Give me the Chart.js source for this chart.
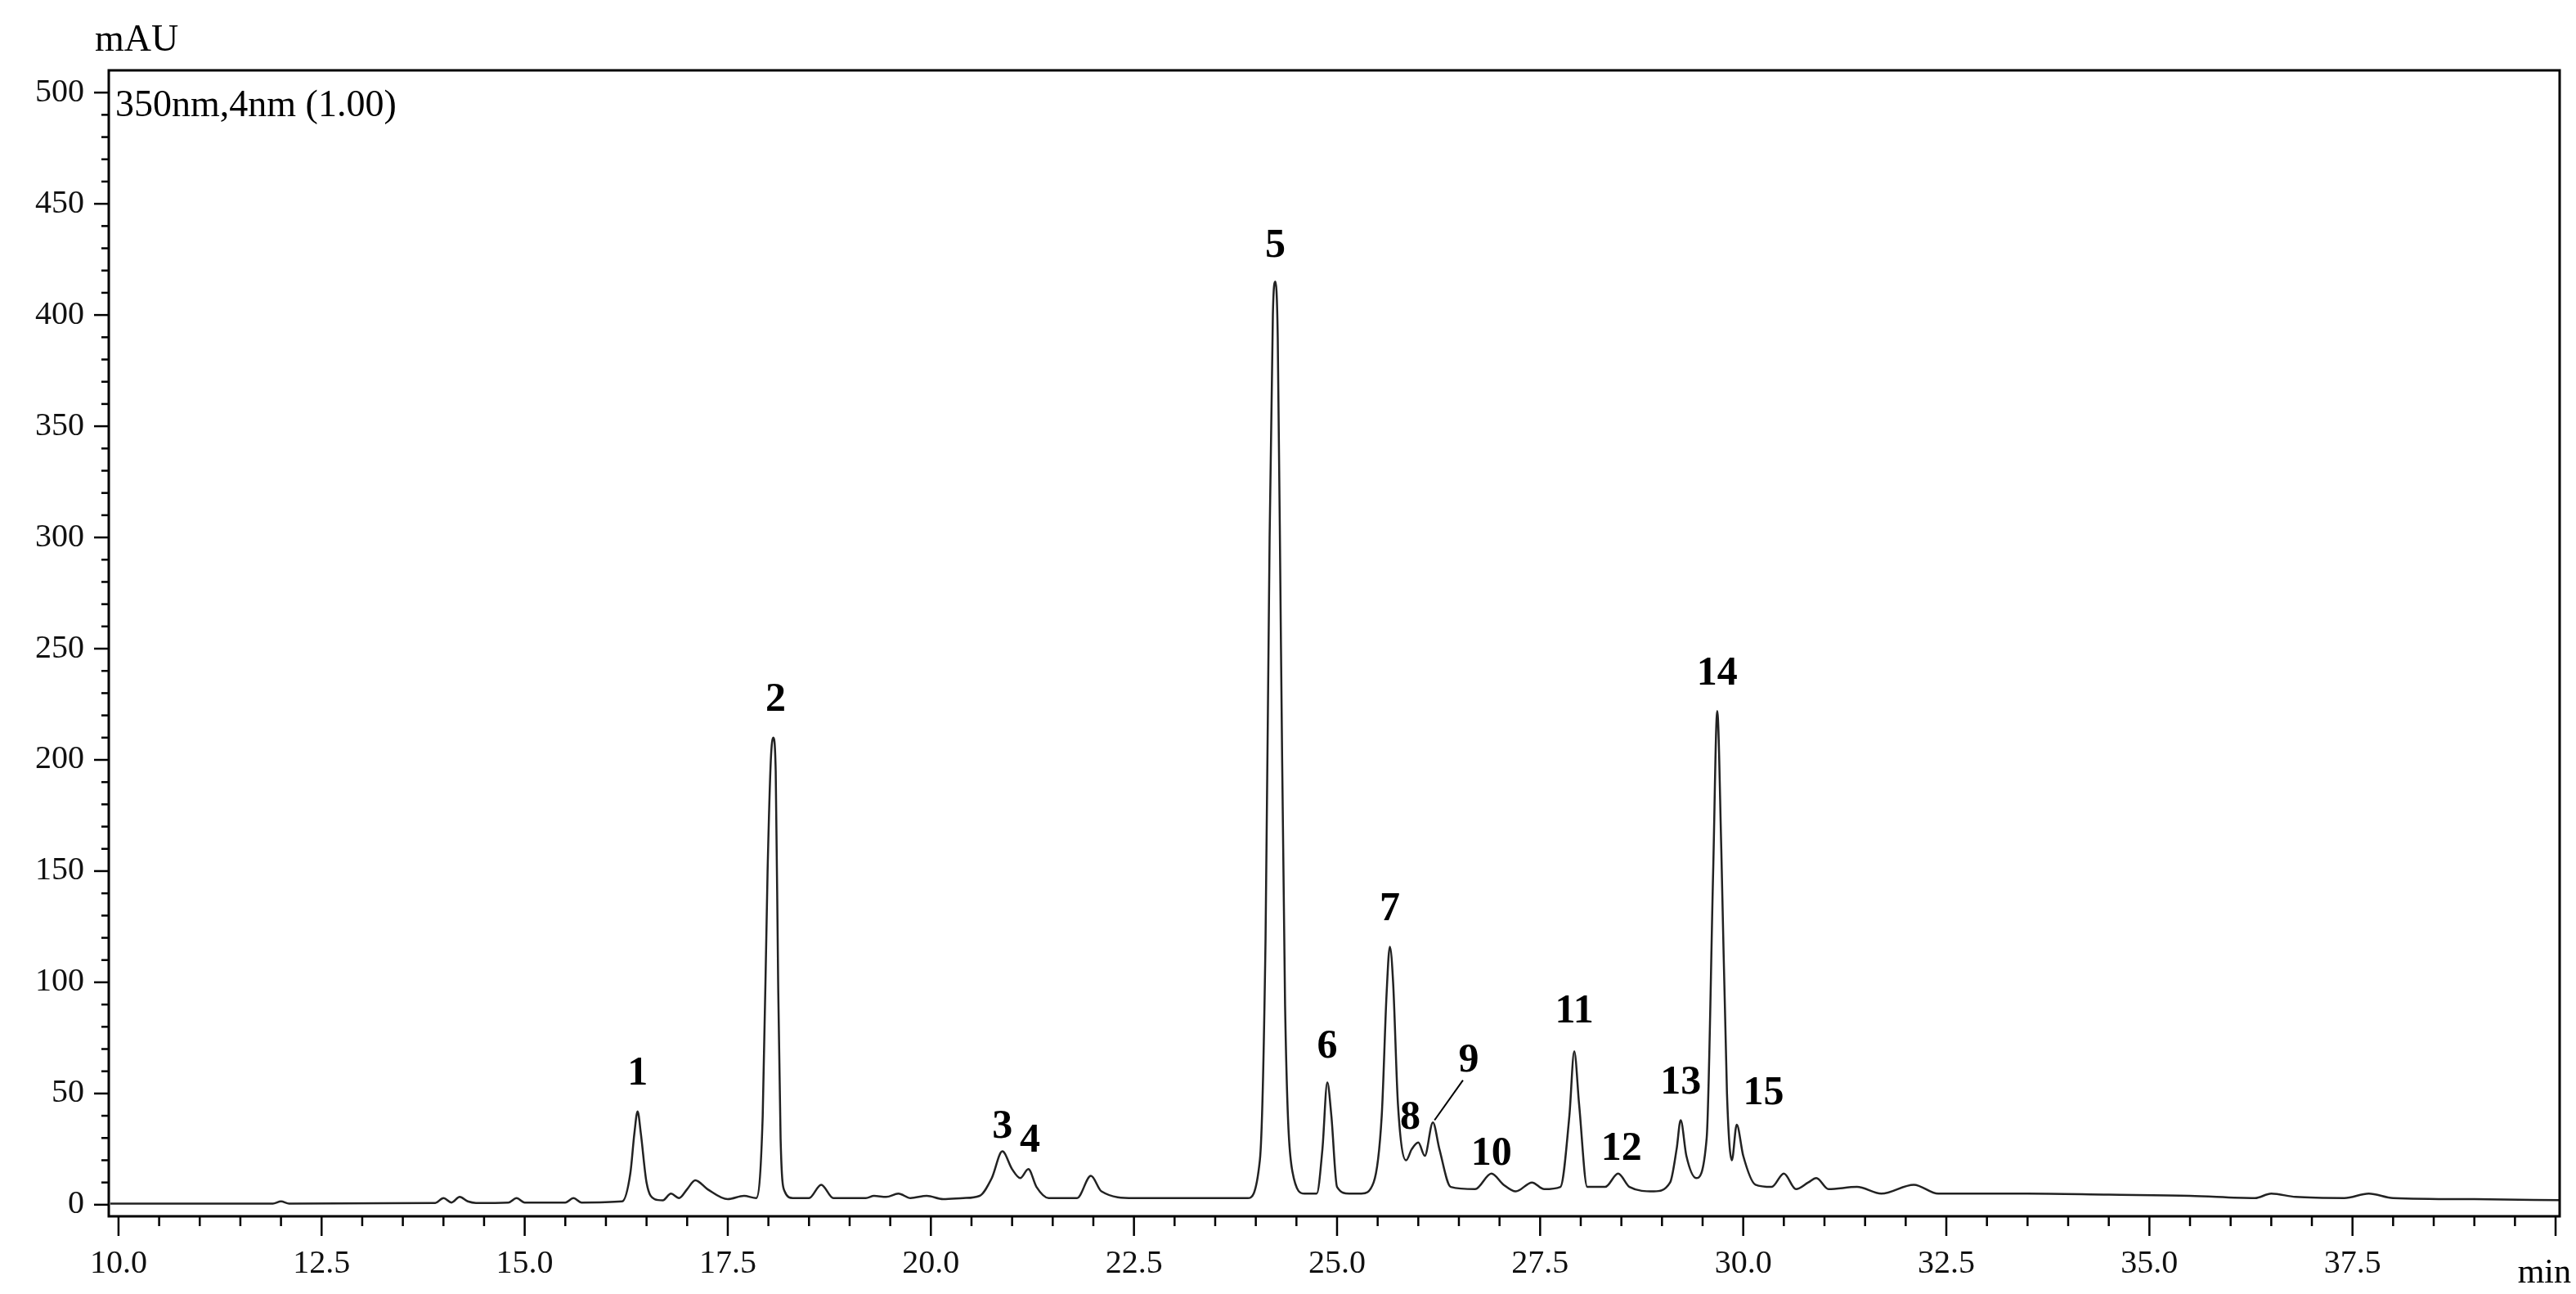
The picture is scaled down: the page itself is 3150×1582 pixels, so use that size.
<!DOCTYPE html>
<html><head><meta charset="utf-8">
<script src="https://cdn.jsdelivr.net/npm/chart.js@4/dist/chart.umd.min.js"></script>
<style>html,body{margin:0;padding:0;background:#fff}#w{width:3150px;height:1582px}</style>
</head><body><div id="w"><canvas id="c"></canvas></div>
<script>
// Retention time (min) and absorbance (mAU)
const times = [9.9,11.9,12.0,12.1,13.9,14.0,14.1,14.2,14.3,14.4,14.8,14.9,15.0,15.5,15.6,15.7,16.2,16.3,16.35,16.39,16.43,16.5,16.6,16.7,16.8,16.9,17.0,17.1,17.25,17.5,17.7,17.85,17.93,17.99,18.03,18.06,18.09,18.12,18.15,18.2,18.3,18.5,18.65,18.8,19.2,19.3,19.45,19.6,19.75,19.95,20.15,20.4,20.6,20.75,20.88,21.0,21.1,21.2,21.3,21.45,21.8,21.97,22.1,22.5,23.2,23.9,24.05,24.12,24.17,24.21,24.24,24.27,24.31,24.36,24.45,24.6,24.75,24.82,24.88,24.93,25.0,25.15,25.3,25.45,25.55,25.61,25.65,25.69,25.75,25.85,25.92,26.0,26.08,26.18,26.26,26.4,26.7,26.9,27.05,27.2,27.4,27.55,27.75,27.86,27.92,27.98,28.08,28.3,28.46,28.6,28.9,29.1,29.18,29.23,29.3,29.42,29.55,29.63,29.68,29.73,29.8,29.86,29.92,30.0,30.15,30.35,30.5,30.65,30.8,30.9,31.05,31.4,31.7,32.1,32.4,33.5,34.5,35.5,36.3,36.5,36.8,37.4,37.7,38.0,39.0,40.1];
const mau   = [0.5,0.5,1.5,0.5,0.8,3,1,3.5,1.5,0.8,1,3,1,1,3,1,1.5,14,32,42,32,10,2.5,2,5,3,7,11,7,2.5,4,3,40,150,200,210,195,100,30,6,3,3,9,3,3,4,3.5,5,3,4,2.5,3,4,12,24,16,12,16,8,3,3,13,6,3,3,3,20,120,300,400,415,390,250,90,15,5,5,25,55,40,8,5,5,10,40,95,116,100,45,20,25,28,22,37,25,8,7,14,9,6,10,7,8,40,69,45,8,8,14,8,6,10,25,38,22,12,30,150,222,160,50,20,36,22,9,8,14,7,10,12,7,8,5,9,5,5,4.5,4,3,5,3.5,3,5,3,2.5,2];
const xTickLabels = ["10.0","12.5","15.0","17.5","20.0","22.5","25.0","27.5","30.0","32.5","35.0","37.5"];
const yTickLabels = ["0","50","100","150","200","250","300","350","400","450","500"];
const peakLabels = ["1","2","3","4","5","6","7","8","9","10","11","12","13","14","15"];
const peakLabelX = [16.39,18.09,20.88,21.22,24.24,24.88,25.65,25.9,26.62,26.9,27.92,28.5,29.23,29.68,30.25];
const peakLabelY = [54,222,30,24,426,66,128,34,60,18,82,20,50,234,45];

const pts = times.map((t,i)=>({x:t,y:mau[i]}));
const F = '"Liberation Serif", "Times New Roman", serif';

const deco = {
  id:'deco',
  afterDraw(ch){
    const c=ch.ctx, a=ch.chartArea, xs=ch.scales.x, ys=ch.scales.y;
    c.save();
    c.strokeStyle='#000'; c.lineWidth=3;
    c.strokeRect(a.left,a.top,a.right-a.left,a.bottom-a.top);
    c.lineWidth=2.5;
    for(let v=10;v<=40.001;v+=0.5){
      const p=xs.getPixelForValue(v); const maj=Math.abs(v/2.5-Math.round(v/2.5))<1e-6;
      c.beginPath(); c.moveTo(p,a.bottom); c.lineTo(p,a.bottom+(maj?24:12)); c.stroke();
    }
    for(let v=0;v<=500;v+=10){
      const p=ys.getPixelForValue(v); const maj=v%50===0;
      c.beginPath(); c.moveTo(a.left,p); c.lineTo(a.left-(maj?18:9),p); c.stroke();
    }
    c.fillStyle='#000';
    c.font='46px '+F; c.textAlign='left'; c.textBaseline='alphabetic';
    c.fillText('mAU',116,62);
    c.fillText('350nm,4nm (1.00)',a.left+8,a.top+56);
    c.font='42px '+F; c.textAlign='right'; c.fillText('min',3144,1568);
    c.font='bold 50px '+F; c.textAlign='center';
    peakLabels.forEach((s,i)=>{
      c.fillText(s,xs.getPixelForValue(peakLabelX[i]),ys.getPixelForValue(peakLabelY[i]));
    });
    c.lineWidth=2; c.beginPath();
    c.moveTo(xs.getPixelForValue(26.55),ys.getPixelForValue(56));
    c.lineTo(xs.getPixelForValue(26.2),ys.getPixelForValue(38)); c.stroke();
    c.restore();
  }
};

new Chart(document.getElementById('c'),{
  type:'line',
  data:{datasets:[{data:pts,borderColor:'#222',borderWidth:2.5,pointRadius:0,fill:false,cubicInterpolationMode:'monotone'}]},
  options:{
    responsive:true,maintainAspectRatio:false,animation:false,
    layout:{padding:{top:86,right:20,left:0,bottom:0}},
    plugins:{legend:{display:false},tooltip:{enabled:false}},
    scales:{
      x:{type:'linear',min:9.88,max:40.05,
        afterBuildTicks(s){s.ticks=xTickLabels.map(l=>({value:parseFloat(l)}));},
        ticks:{callback:(v)=>xTickLabels.find(l=>Math.abs(parseFloat(l)-v)<1e-6)||'',color:'#111',font:{family:F,size:40},padding:26,maxRotation:0,autoSkip:false},
        grid:{display:false},border:{display:false},
        afterFit(s){s.height=95;}},
      y:{type:'linear',min:-5.2,max:510,
        afterBuildTicks(s){s.ticks=yTickLabels.map(l=>({value:parseFloat(l)}));},
        ticks:{callback:(v)=>String(v),color:'#111',font:{family:F,size:40},padding:22,autoSkip:false},
        grid:{display:false},border:{display:false},
        afterFit(s){s.width=133;}}
    }
  },
  plugins:[deco]
});
</script></body></html>
